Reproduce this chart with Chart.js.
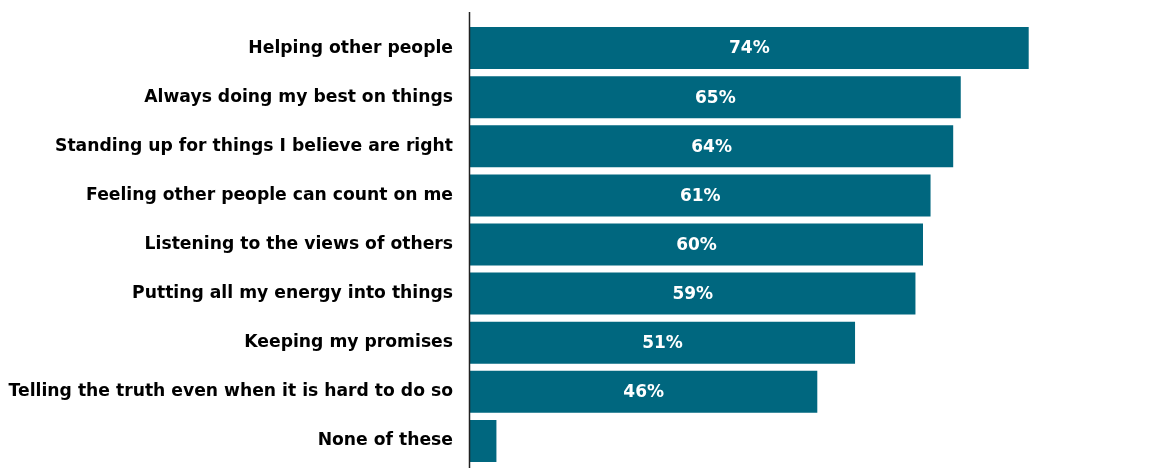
<!DOCTYPE html>
<html>
<head>
    <meta charset="UTF-8">
    <title>Values</title>
    <script src="https://cdn.jsdelivr.net/npm/chart.js"></script>
    <style>
        html, body { margin: 0; padding: 0; background: #fff; }
        .chart-container { position: relative; width: 1165px; height: 468px; }
    </style>
</head>
<body>
    <div class="chart-container">
        <canvas id="chart"></canvas>
    </div>
    <script>
        var categories = [
            'Helping other people',
            'Always doing my best on things',
            'Standing up for things I believe are right',
            'Feeling other people can count on me',
            'Listening to the views of others',
            'Putting all my energy into things',
            'Keeping my promises',
            'Telling the truth even when it is hard to do so',
            'None of these'
        ];
        var values = [74, 65, 64, 61, 60, 59, 51, 46, 3.5];
        var valueLabels = ['74%', '65%', '64%', '61%', '60%', '59%', '51%', '46%', ''];

        var fontFamily = '"DejaVu Sans", sans-serif';

        // etiquetas brancas dentro das barras + linha do eixo
        var barLabels = {
            id: 'barLabels',
            afterDatasetsDraw: function (chart) {
                var ctx = chart.ctx;
                var meta = chart.getDatasetMeta(0);
                ctx.save();
                ctx.fillStyle = '#ffffff';
                ctx.font = 'bold 17px ' + fontFamily;
                ctx.textAlign = 'center';
                ctx.textBaseline = 'middle';
                meta.data.forEach(function (bar, i) {
                    if (!valueLabels[i]) return;
                    var cx = (bar.x + bar.base) / 2;
                    ctx.fillText(valueLabels[i], cx, bar.y + 1);
                });
                // linha vertical do eixo
                var x = chart.chartArea.left - 0.5;
                ctx.strokeStyle = '#222';
                ctx.lineWidth = 1.5;
                ctx.beginPath();
                ctx.moveTo(x, 12);
                ctx.lineTo(x, chart.height);
                ctx.stroke();
                ctx.restore();
            }
        };

        var ctx = document.getElementById('chart').getContext('2d');
        var chart = new Chart(ctx, {
            type: 'bar',
            data: {
                labels: categories,
                datasets: [{
                    data: values,
                    backgroundColor: '#00677f',
                    borderWidth: 0,
                    barPercentage: 0.855,
                    categoryPercentage: 1.0
                }]
            },
            options: {
                indexAxis: 'y',
                responsive: true,
                maintainAspectRatio: false,
                animation: false,
                layout: {
                    padding: { top: 23.5, bottom: 2.5, right: 91, left: 0 }
                },
                plugins: {
                    legend: { display: false },
                    tooltip: { enabled: false }
                },
                scales: {
                    x: {
                        display: false,
                        min: 0,
                        max: 80
                    },
                    y: {
                        afterFit: function (scale) {
                            scale.width = 470;
                            scale.paddingTop = 0;
                            scale.paddingBottom = 0;
                        },
                        grid: { display: false, drawTicks: false },
                        border: { display: false },
                        ticks: {
                            color: '#000',
                            padding: 17,
                            font: { family: fontFamily, size: 17.2, weight: 'bold' }
                        }
                    }
                }
            },
            plugins: [barLabels]
        });
    </script>
</body>
</html>
